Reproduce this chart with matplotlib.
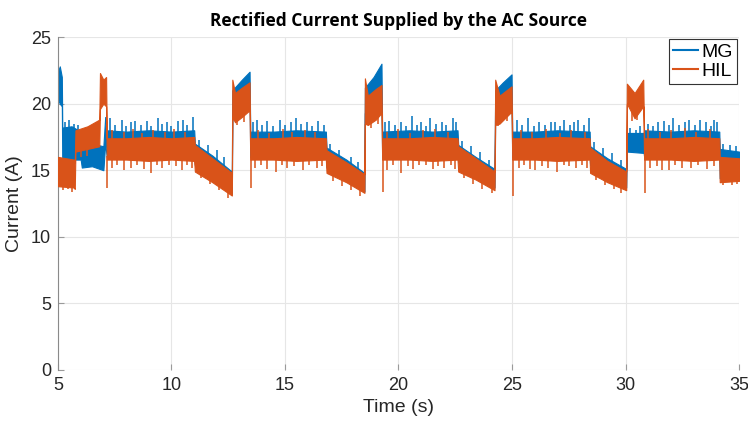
import matplotlib
matplotlib.use("Agg")
import matplotlib.pyplot as plt
from matplotlib.lines import Line2D
from matplotlib import font_manager
import numpy as np

# ---- data: current envelopes (A) of the two measurements versus time (s) ----
mg_t = [5.00, 5.08, 5.17, 5.19, 5.6, 6.0, 6.05, 6.5, 7.0, 7.08, 7.15,
        8.0, 9.0, 10.0, 11.0, 11.03, 11.8, 12.66, 12.68, 13.1, 13.44, 13.47,
        14.5, 15.5, 16.8, 16.83, 17.7, 18.50, 18.52, 18.9, 19.25, 19.28,
        20.5, 21.5, 22.6, 22.63, 23.4, 24.23, 24.26, 24.6, 24.98, 25.01,
        26.0, 27.0, 28.42, 28.44, 29.2, 30.03, 30.06, 30.8, 30.82,
        32.0, 33.0, 34.13, 34.15, 35.0]
mg_lo = [20.3, 20.0, 19.8, 15.4, 15.8, 15.8, 15.2, 15.3, 15.0, 17.0, 16.0,
         16.0, 15.9, 16.0, 15.9, 15.4, 14.3, 13.2, 19.5, 19.7, 20.0, 16.0,
         16.0, 15.9, 16.0, 15.2, 14.3, 13.4, 19.3, 19.6, 20.0, 16.0,
         16.0, 15.9, 16.0, 15.6, 14.7, 13.7, 19.4, 19.7, 20.0, 16.0,
         16.0, 15.9, 16.0, 15.4, 14.5, 13.7, 16.4, 16.3, 16.0,
         16.0, 15.9, 16.0, 14.4, 14.3]
mg_hi = [22.4, 22.8, 22.0, 18.2, 18.3, 17.9, 17.2, 17.0, 16.8, 19.0, 18.0,
         17.9, 18.0, 17.9, 18.0, 17.0, 16.1, 14.9, 21.0, 21.8, 22.4, 17.9,
         17.9, 18.0, 17.9, 16.7, 15.8, 14.8, 21.2, 22.0, 23.0, 17.9,
         18.0, 17.9, 18.0, 16.9, 16.0, 15.1, 21.0, 21.6, 22.2, 17.9,
         17.9, 18.0, 17.9, 16.8, 15.9, 15.1, 17.8, 17.8, 18.0,
         17.9, 18.0, 17.9, 16.6, 16.4]

hil_t = [5.00, 5.7, 5.74, 5.77, 6.3, 6.82, 6.85, 7.0, 7.12, 7.15,
         8.0, 9.0, 10.0, 11.0, 11.03, 11.8, 12.66, 12.68, 12.8, 13.1, 13.44, 13.47,
         14.5, 15.5, 16.8, 16.83, 17.7, 18.50, 18.52, 18.65, 19.0, 19.25, 19.28,
         20.5, 21.5, 22.6, 22.63, 23.4, 24.23, 24.26, 24.45, 24.98, 25.01,
         26.0, 27.0, 28.42, 28.44, 29.2, 30.03, 30.06, 30.4, 30.78, 30.82,
         32.0, 33.0, 34.13, 34.15, 35.0]
hil_lo = [13.8, 13.7, 13.6, 16.4, 16.6, 16.8, 19.6, 20.0, 19.8, 15.8,
          15.8, 15.7, 15.8, 15.7, 14.9, 14.1, 13.1, 19.0, 18.6, 19.0, 19.5, 15.8,
          15.8, 15.7, 15.8, 14.8, 14.1, 13.3, 18.5, 18.4, 18.8, 19.3, 15.8,
          15.8, 15.7, 15.8, 14.9, 14.3, 13.5, 18.4, 18.5, 19.4, 15.8,
          15.8, 15.7, 15.8, 14.8, 14.1, 13.5, 20.0, 18.9, 19.8, 15.8,
          15.8, 15.7, 15.8, 14.1, 14.2]
hil_hi = [16.0, 15.8, 15.6, 18.0, 18.3, 18.8, 22.3, 21.8, 22.0, 17.4,
          17.4, 17.5, 17.4, 17.5, 16.9, 15.9, 14.8, 21.8, 20.8, 21.2, 21.6, 17.4,
          17.4, 17.5, 17.4, 16.5, 15.6, 14.7, 21.9, 20.6, 21.1, 21.4, 17.4,
          17.4, 17.5, 17.4, 16.8, 15.9, 14.9, 21.8, 20.6, 21.3, 17.4,
          17.4, 17.5, 17.4, 16.7, 15.7, 14.9, 21.5, 20.8, 21.8, 17.4,
          17.4, 17.5, 17.4, 16.0, 15.9]

# short excursions above the MG band
mg_spike_t = [5.3, 5.5, 5.7, 5.9,
              7.3, 7.5, 7.8, 8.0, 8.2, 8.4, 8.65, 8.9, 9.1, 9.4, 9.6, 9.8, 10.0,
              10.3, 10.5, 10.7, 10.95,
              11.2, 11.6, 12.0, 12.3,
              13.6, 13.75, 14.0, 14.2, 14.45, 14.8, 15.0, 15.25, 15.5, 15.7,
              15.95, 16.2, 16.45, 16.7,
              17.0, 17.4, 17.9, 18.2,
              19.4, 19.6, 19.85, 20.1, 20.35, 20.6, 20.8, 21.0, 21.2, 21.4,
              21.65, 21.9, 22.1, 22.4, 22.55,
              22.8, 23.2, 23.6, 24.0,
              25.2, 25.45, 25.7, 25.95, 26.2, 26.45, 26.7, 26.9, 27.1, 27.3,
              27.55, 27.75, 27.9, 28.15, 28.38,
              28.6, 29.0, 29.4, 29.8,
              30.2, 30.45, 30.65,
              31.0, 31.2, 31.45, 31.7, 31.9, 32.1, 32.35, 32.6, 32.8, 33.05,
              33.3, 33.55, 33.75, 33.9, 34.05,
              34.3, 34.6, 34.85]
mg_spike_v = [18.6, 18.8, 18.5, 18.4,
              18.9, 18.4, 18.8, 18.3, 18.6, 18.7, 18.4, 18.7, 18.3, 18.9, 18.5, 18.6, 18.3,
              18.7, 18.8, 18.4, 19.0,
              17.3, 16.9, 16.5, 16.0,
              18.6, 18.8, 18.4, 18.7, 18.3, 18.8, 18.4, 18.6, 18.9, 18.5,
              18.6, 18.3, 18.7, 18.4,
              17.0, 16.5, 16.0, 15.6,
              18.6, 18.7, 18.4, 18.6, 18.3, 19.1, 18.4, 18.6, 18.3, 18.9,
              18.5, 18.6, 18.4, 18.9, 18.6,
              17.2, 16.8, 16.4, 15.8,
              18.8, 18.4, 18.9, 18.3, 18.6, 18.4, 18.6, 18.6, 18.3, 18.8,
              18.4, 18.6, 18.8, 18.4, 18.9,
              17.1, 16.7, 16.3, 15.8,
              18.2, 18.0, 18.3,
              18.5, 18.3, 18.6, 18.7, 18.4, 18.9, 18.4, 18.6, 18.8, 18.4,
              18.8, 18.6, 18.3, 18.8, 18.6,
              17.0, 16.9, 16.8]

# short excursions of HIL above its band
hil_up_t = [7.4, 7.9, 8.3, 8.7, 9.2, 9.7, 10.1, 10.6,
            13.8, 14.3, 14.9, 15.3, 15.9, 16.3,
            19.5, 20.0, 20.5, 21.1, 21.6, 22.2,
            25.4, 25.9, 26.5, 27.1, 27.6, 28.2,
            31.0, 31.5, 32.0, 32.6, 33.1, 33.7]
hil_up_v = [18.0, 17.9, 18.1, 17.8, 18.0, 17.9, 18.1, 17.9,
            18.0, 17.8, 18.1, 17.9, 18.0, 17.9,
            17.9, 18.1, 17.8, 18.0, 18.1, 17.9,
            18.0, 17.9, 18.1, 17.8, 18.0, 17.9,
            18.1, 17.9, 18.0, 18.2, 17.9, 18.1]

# short excursions of HIL below its band
hil_dip_t = [5.2, 5.45, 5.6, 6.0, 6.3,
             7.18, 7.4, 7.6, 7.9, 8.2, 8.5, 8.8, 9.1, 9.35, 9.6, 9.9, 10.2,
             10.45, 10.7, 10.9,
             11.3, 11.7, 12.1, 12.5, 12.9, 13.2,
             13.5, 13.7, 13.95, 14.2, 14.6, 14.85, 15.1, 15.4, 15.8, 16.05,
             16.4, 16.65,
             17.1, 17.5, 17.9, 18.3, 18.8, 19.1,
             19.31, 19.5, 19.75, 20.1, 20.4, 20.65, 20.9, 21.2, 21.5, 21.75,
             22.0, 22.3, 22.5,
             22.9, 23.3, 23.7, 24.1, 24.4, 24.8,
             25.05, 25.3, 25.55, 25.8, 26.0, 26.3, 26.6, 27.0, 27.3, 27.5,
             27.8, 28.1, 28.3,
             28.7, 29.1, 29.5, 29.8, 30.3, 30.5,
             30.85, 31.1, 31.4, 31.6, 31.9, 32.2, 32.5, 32.9, 33.2, 33.6, 33.9,
             34.3, 34.5, 34.7, 34.9]
hil_dip_v = [13.5, 13.6, 13.4, 16.0, 16.1,
             13.7, 15.2, 15.4, 15.0, 15.2, 15.4, 15.1, 14.8, 15.4, 15.2, 15.4, 15.3,
             15.0, 15.4, 15.2,
             14.4, 14.0, 13.5, 12.9, 18.4, 18.6,
             13.7, 15.2, 15.4, 15.1, 14.9, 15.4, 15.2, 15.3, 15.0, 15.4,
             15.2, 15.3,
             14.2, 13.8, 13.5, 13.1, 18.2, 18.5,
             13.4, 15.0, 15.4, 14.8, 15.3, 15.1, 15.4, 15.4, 15.1, 15.3,
             15.2, 15.4, 15.1,
             14.4, 14.0, 13.6, 13.3, 18.3, 18.7,
             13.1, 15.2, 15.4, 15.1, 15.0, 15.3, 15.2, 14.9, 15.4, 15.3,
             15.2, 15.4, 15.2,
             14.3, 13.9, 13.6, 13.3, 18.7, 18.8,
             13.3, 15.2, 15.3, 15.0, 15.0, 15.4, 15.2, 15.2, 15.4, 15.1, 15.3,
             13.9, 14.2, 13.9, 14.0]

series_names = ["MG", "HIL"]
x_ticks = [5, 10, 15, 20, 25, 30, 35]
y_ticks = [0, 5, 10, 15, 20, 25]

mg_color = "#0072BD"
hil_color = "#D95319"

names = {f.name for f in font_manager.fontManager.ttflist}
label_font = "Liberation Sans Narrow" if "Liberation Sans Narrow" in names else "Liberation Sans"

fig = plt.figure(figsize=(7.48, 4.26), dpi=100)
ax = fig.add_axes([0.0775, 0.1315, 0.9105, 0.7815])

# MG band with its upward excursions
ax.fill_between(mg_t, mg_lo, mg_hi, color=mg_color, linewidth=0.8, zorder=2)
mg_base = np.interp(mg_spike_t, mg_t, mg_hi) - 0.3
ax.vlines(mg_spike_t, mg_base, mg_spike_v, color=mg_color, linewidth=1.1, zorder=2)

# HIL band on top, with its excursions in both directions
ax.fill_between(hil_t, hil_lo, hil_hi, color=hil_color, linewidth=0.8, zorder=3)
hil_top = np.interp(hil_up_t, hil_t, hil_hi) - 0.3
ax.vlines(hil_up_t, hil_top, hil_up_v, color=hil_color, linewidth=1.1, zorder=3)
hil_base = np.interp(hil_dip_t, hil_t, hil_lo) + 0.3
ax.vlines(hil_dip_t, hil_dip_v, hil_base, color=hil_color, linewidth=1.1, zorder=3)

ax.set_xlim(5, 35)
ax.set_ylim(0, 25)
ax.set_xticks(x_ticks)
ax.set_yticks(y_ticks)
ax.grid(True, color="#e6e6e6", linewidth=0.8)
ax.set_axisbelow(True)
ax.tick_params(direction="in", length=4, color="#9a9a9a", labelsize=13,
               labelcolor="#262626", pad=5)
for lab in ax.get_xticklabels() + ax.get_yticklabels():
    lab.set_fontfamily(label_font)
for side in ["top", "right", "bottom"]:
    ax.spines[side].set_visible(False)
ax.spines["left"].set_color("#8a8a8a")

ax.set_xlabel("Time (s)", fontsize=14, family=label_font, color="#262626", labelpad=4)
ax.set_ylabel("Current (A)", fontsize=14, family=label_font, color="#262626", labelpad=6)
ax.set_title("Rectified Current Supplied by the AC Source", fontsize=12.5,
             fontweight="bold", family="Open Sans", pad=8)

handles = [Line2D([0], [0], color=mg_color, lw=1.5),
           Line2D([0], [0], color=hil_color, lw=1.5)]
leg = ax.legend(handles, series_names, loc="upper right", fancybox=False,
                prop={"family": label_font, "size": 14}, handlelength=1.3,
                handletextpad=0.2, borderpad=0.2, labelspacing=0.1,
                borderaxespad=0.1, framealpha=1)
leg.get_frame().set_edgecolor("#333333")
leg.get_frame().set_linewidth(0.8)

fig.savefig("out.png", dpi=100)
